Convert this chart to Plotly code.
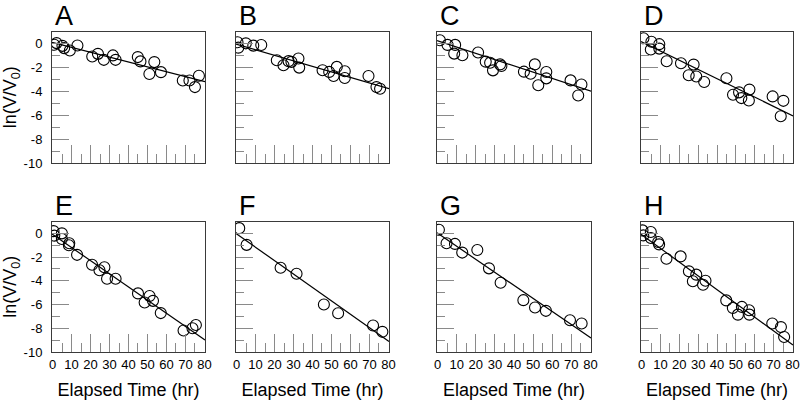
import plotly.graph_objects as go

# ---------------- data ----------------
panel_labels = ["A", "B", "C", "D", "E", "F", "G", "H"]

A_t = [0.9, 2.1, 5.2, 6.1, 9.1, 13.1, 20.9, 23.9, 27.0, 31.8, 33.2, 44.9, 46.3, 51.0, 53.6, 57.1, 68.6, 72.1, 75.0, 77.1]
A_y = [-0.11, 0.03, -0.2, -0.39, -0.59, -0.17, -1.09, -0.87, -1.37, -1.0, -1.37, -1.14, -1.5, -2.56, -1.56, -2.4, -3.1, -3.1, -3.65, -2.7]

B_t = [0.5, 0.9, 4.9, 8.8, 13.0, 21.2, 24.7, 27.4, 28.9, 32.6, 33.0, 45.3, 48.8, 51.1, 52.8, 57.0, 57.0, 69.5, 73.7, 75.6]
B_y = [0.1, -0.35, 0.01, -0.18, -0.13, -1.4, -1.82, -1.48, -1.54, -1.26, -2.02, -2.24, -2.38, -2.72, -1.96, -2.33, -2.89, -2.72, -3.65, -3.79]

C_t = [1.2, 5.2, 9.2, 8.7, 13.0, 21.2, 25.2, 27.5, 29.0, 32.7, 33.4, 45.2, 48.7, 50.9, 52.7, 56.9, 56.9, 69.6, 73.6, 75.3]
C_y = [0.27, -0.12, -0.12, -0.85, -0.99, -0.76, -1.52, -1.61, -2.25, -1.75, -1.89, -2.36, -2.53, -1.75, -3.49, -2.39, -2.92, -3.09, -4.35, -3.43]

D_t = [1.0, 5.2, 4.9, 9.4, 9.4, 13.3, 20.9, 27.6, 25.0, 29.0, 33.2, 45.0, 48.5, 51.7, 52.9, 57.2, 56.9, 69.5, 73.8, 75.2]
D_y = [0.43, 0.14, -0.51, -0.06, -0.43, -1.49, -1.66, -1.77, -2.66, -2.77, -3.23, -2.91, -4.29, -4.09, -4.57, -3.86, -4.77, -4.43, -6.09, -4.8]

E_t = [0.5, 0.9, 4.9, 4.9, 8.8, 8.6, 12.9, 20.8, 24.7, 27.3, 28.7, 33.2, 45.0, 48.5, 51.1, 52.9, 57.0, 69.0, 73.7, 75.5]
E_y = [0.19, -0.19, 0.0, -0.47, -0.83, -1.0, -1.81, -2.64, -3.11, -2.86, -3.83, -3.83, -5.06, -5.83, -5.28, -5.69, -6.72, -8.19, -8.0, -7.72]

F_t = [1.4, 5.3, 23.2, 31.6, 46.0, 53.5, 71.9, 76.8]
F_y = [0.44, -0.97, -2.9, -3.4, -6.0, -6.73, -7.76, -8.3]

G_t = [0.7, 4.7, 9.1, 12.9, 20.8, 26.9, 33.0, 44.9, 51.0, 56.7, 69.3, 75.4]
G_y = [0.3, -0.83, -0.89, -1.62, -1.4, -2.95, -4.16, -5.63, -6.25, -6.53, -7.32, -7.6]

H_t = [0.5, 0.9, 4.9, 4.9, 8.8, 9.3, 13.2, 20.7, 25.1, 27.2, 29.0, 32.6, 33.9, 44.9, 48.4, 51.1, 53.2, 57.0, 57.2, 69.3, 73.9, 75.6]
H_y = [0.25, -0.17, 0.11, -0.39, -0.73, -0.93, -2.14, -1.94, -3.2, -4.04, -3.48, -4.33, -4.0, -5.65, -6.29, -6.85, -6.2, -6.48, -6.85, -7.6, -7.9, -8.74]

fit_intercept = [0.08, -0.07, 0.22, 0.14, -0.08, -0.04, 0.01, -0.10]
fit_slope = [-0.0407, -0.0463, -0.0525, -0.0772, -0.111, -0.113, -0.110, -0.116]

x_tickvals = [0, 10, 20, 30, 40, 50, 60, 70, 80]
x_ticktext = ["0", "10", "20", "30", "40", "50", "60", "70", "80"]
y_tickvals = [-10, -8, -6, -4, -2, 0]
y_ticktext = ["-10", "-8", "-6", "-4", "-2", "0"]

series_t = [A_t, B_t, C_t, D_t, E_t, F_t, G_t, H_t]
series_y = [A_y, B_y, C_y, D_y, E_y, F_y, G_y, H_y]

# ---------------- layout geometry ----------------
W, H = 800, 404
col_px = [(52, 205), (236, 389), (437, 591), (641, 793)]
row_px = [(31.5, 163), (221.5, 352)]
x_range = [-0.3, 80.3]
y_range = [-10, 1]

FONT = "Liberation Sans, Arial, sans-serif"
FRAME = "#3a3a3a"
TICKC = "#8a8a8a"

fig = go.Figure()
layout = dict(
    width=W, height=H,
    margin=dict(l=0, r=0, t=0, b=0, pad=0, autoexpand=False),
    paper_bgcolor="white", plot_bgcolor="white",
    showlegend=False,
    font=dict(family=FONT, color="black"),
)
annotations = []

for i in range(8):
    r, c = divmod(i, 4)
    n = i + 1
    xa = "x" if n == 1 else f"x{n}"
    ya = "y" if n == 1 else f"y{n}"
    xkey = "xaxis" if n == 1 else f"xaxis{n}"
    ykey = "yaxis" if n == 1 else f"yaxis{n}"
    x0, x1 = col_px[c]
    t0, t1 = row_px[r]

    lx = x_range
    ly = [fit_intercept[i] + fit_slope[i] * v for v in lx]
    fig.add_trace(go.Scatter(x=lx, y=ly, mode="lines", xaxis=xa, yaxis=ya,
                             line=dict(color="black", width=1.2), hoverinfo="skip"))
    fig.add_trace(go.Scatter(x=series_t[i], y=series_y[i], mode="markers", xaxis=xa, yaxis=ya,
                             marker=dict(symbol="circle-open", size=11, color="black",
                                         line=dict(width=1.1))))

    xax = dict(
        domain=[x0 / W, x1 / W], anchor=ya, range=x_range, automargin=False,
        tickmode="array", tickvals=x_tickvals, ticktext=x_ticktext,
        ticks="inside", ticklen=18, tickwidth=1.2, tickcolor=TICKC,
        minor=dict(dtick=5, tick0=0, ticks="inside", ticklen=9, tickwidth=1.2, tickcolor=TICKC, showgrid=False),
        showticklabels=(r == 1), tickfont=dict(size=13, family=FONT),
        showline=True, linecolor=FRAME, linewidth=1, mirror=True,
        showgrid=False, zeroline=False, fixedrange=True,
    )
    if r == 1:
        xax["title"] = dict(text="Elapsed Time (hr)", font=dict(size=18, family=FONT), standoff=12)
    yax = dict(
        domain=[1 - t1 / H, 1 - t0 / H], anchor=xa, range=y_range, automargin=False,
        tickmode="array", tickvals=y_tickvals, ticktext=y_ticktext,
        ticks="inside", ticklen=17, tickwidth=1.2, tickcolor=TICKC,
        minor=dict(dtick=1, tick0=0, ticks="inside", ticklen=8, tickwidth=1.2, tickcolor=TICKC, showgrid=False),
        showticklabels=(c == 0), tickfont=dict(size=13, family=FONT), ticklabelstandoff=6,
        showline=True, linecolor=FRAME, linewidth=1, mirror=True,
        showgrid=False, zeroline=False, fixedrange=True,
    )
    if c == 0:
        yax["title"] = dict(text="ln(V/V<sub>0</sub>)", font=dict(size=18, family=FONT), standoff=10)
    layout[xkey] = xax
    layout[ykey] = yax
    annotations.append(dict(
        text=panel_labels[i], xref="paper", yref="paper",
        x=(x0 + 1) / W, y=1 - (t0 - 33) / H, xanchor="left", yanchor="top",
        showarrow=False, font=dict(size=27, family=FONT, color="black"),
    ))

layout["annotations"] = annotations
fig.update_layout(**layout)
fig.write_html("out.html", config={"displayModeBar": False},
               post_script="document.body.style.margin='0px';document.body.style.padding='0px';")
